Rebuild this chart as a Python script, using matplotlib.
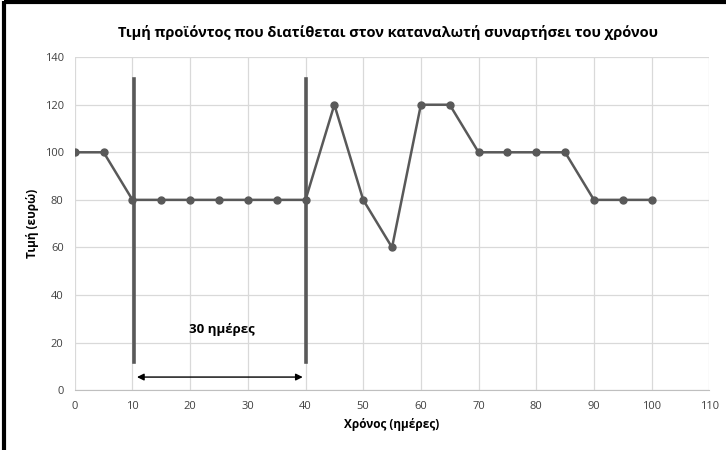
import matplotlib
matplotlib.use('Agg')
import matplotlib.pyplot as plt

plt.rcParams['font.family'] = ['Open Sans', 'DejaVu Sans']

days = [0, 5, 10, 15, 20, 25, 30, 35, 40, 45, 50, 55, 60, 65, 70, 75, 80, 85, 90, 95, 100]
price = [100, 100, 80, 80, 80, 80, 80, 80, 80, 120, 80, 60, 120, 120, 100, 100, 100, 100, 80, 80, 80]
period_start, period_end = 10.3, 40
period_label = '30 ημέρες'

fig = plt.figure(figsize=(7.26, 4.5), dpi=100)

ax = fig.add_axes([0.103, 0.133, 0.874, 0.74])
ax.plot(days, price, color='#595959', linewidth=1.8, marker='o', markersize=5,
        markerfacecolor='#595959', markeredgecolor='#595959', zorder=3)

# the two thick markers for the 30 day period
for xv in (period_start, period_end):
    ax.plot([xv, xv], [12, 131], color='#595959', linewidth=2.6, zorder=4)
ax.annotate('', xy=(period_start, 5.5), xytext=(period_end, 5.5),
            arrowprops=dict(arrowstyle='<|-|>', color='black', lw=1, mutation_scale=10))
ax.text(25.5, 25.5, period_label, ha='center', va='center', fontsize=9.5, fontweight='bold')

ax.set_xlim(0, 110)
ax.set_ylim(0, 140)
ax.set_xticks(range(0, 111, 10))
ax.set_yticks(range(0, 141, 20))
ax.grid(True, color='#d9d9d9', linewidth=0.9)
ax.set_axisbelow(True)
for s in ['top', 'right', 'left']:
    ax.spines[s].set_visible(False)
ax.spines['bottom'].set_color('#bfbfbf')
ax.tick_params(length=0, labelsize=8, colors='#404040', pad=8)
ax.set_xlabel('Χρόνος (ημέρες)', fontsize=8.5, fontweight='bold', labelpad=4)
ax.set_ylabel('Τιμή (ευρώ)', fontsize=8.5, fontweight='bold', labelpad=4)

fig.suptitle('Τιμή προϊόντος που διατίθεται στον καταναλωτή συναρτήσει του χρόνου',
             x=0.535, y=0.945, fontsize=10.5, fontweight='bold')

# black frame on the left and top, drawn from the main axes without clipping
ax.plot([-0.112, -0.112], [-0.18, 1.17], color='black', lw=3, transform=ax.transAxes,
        clip_on=False, solid_capstyle='butt')
ax.plot([-0.112, 1.05], [1.167, 1.167], color='black', lw=3, transform=ax.transAxes,
        clip_on=False, solid_capstyle='butt')

fig.savefig('out.png', dpi=100)
